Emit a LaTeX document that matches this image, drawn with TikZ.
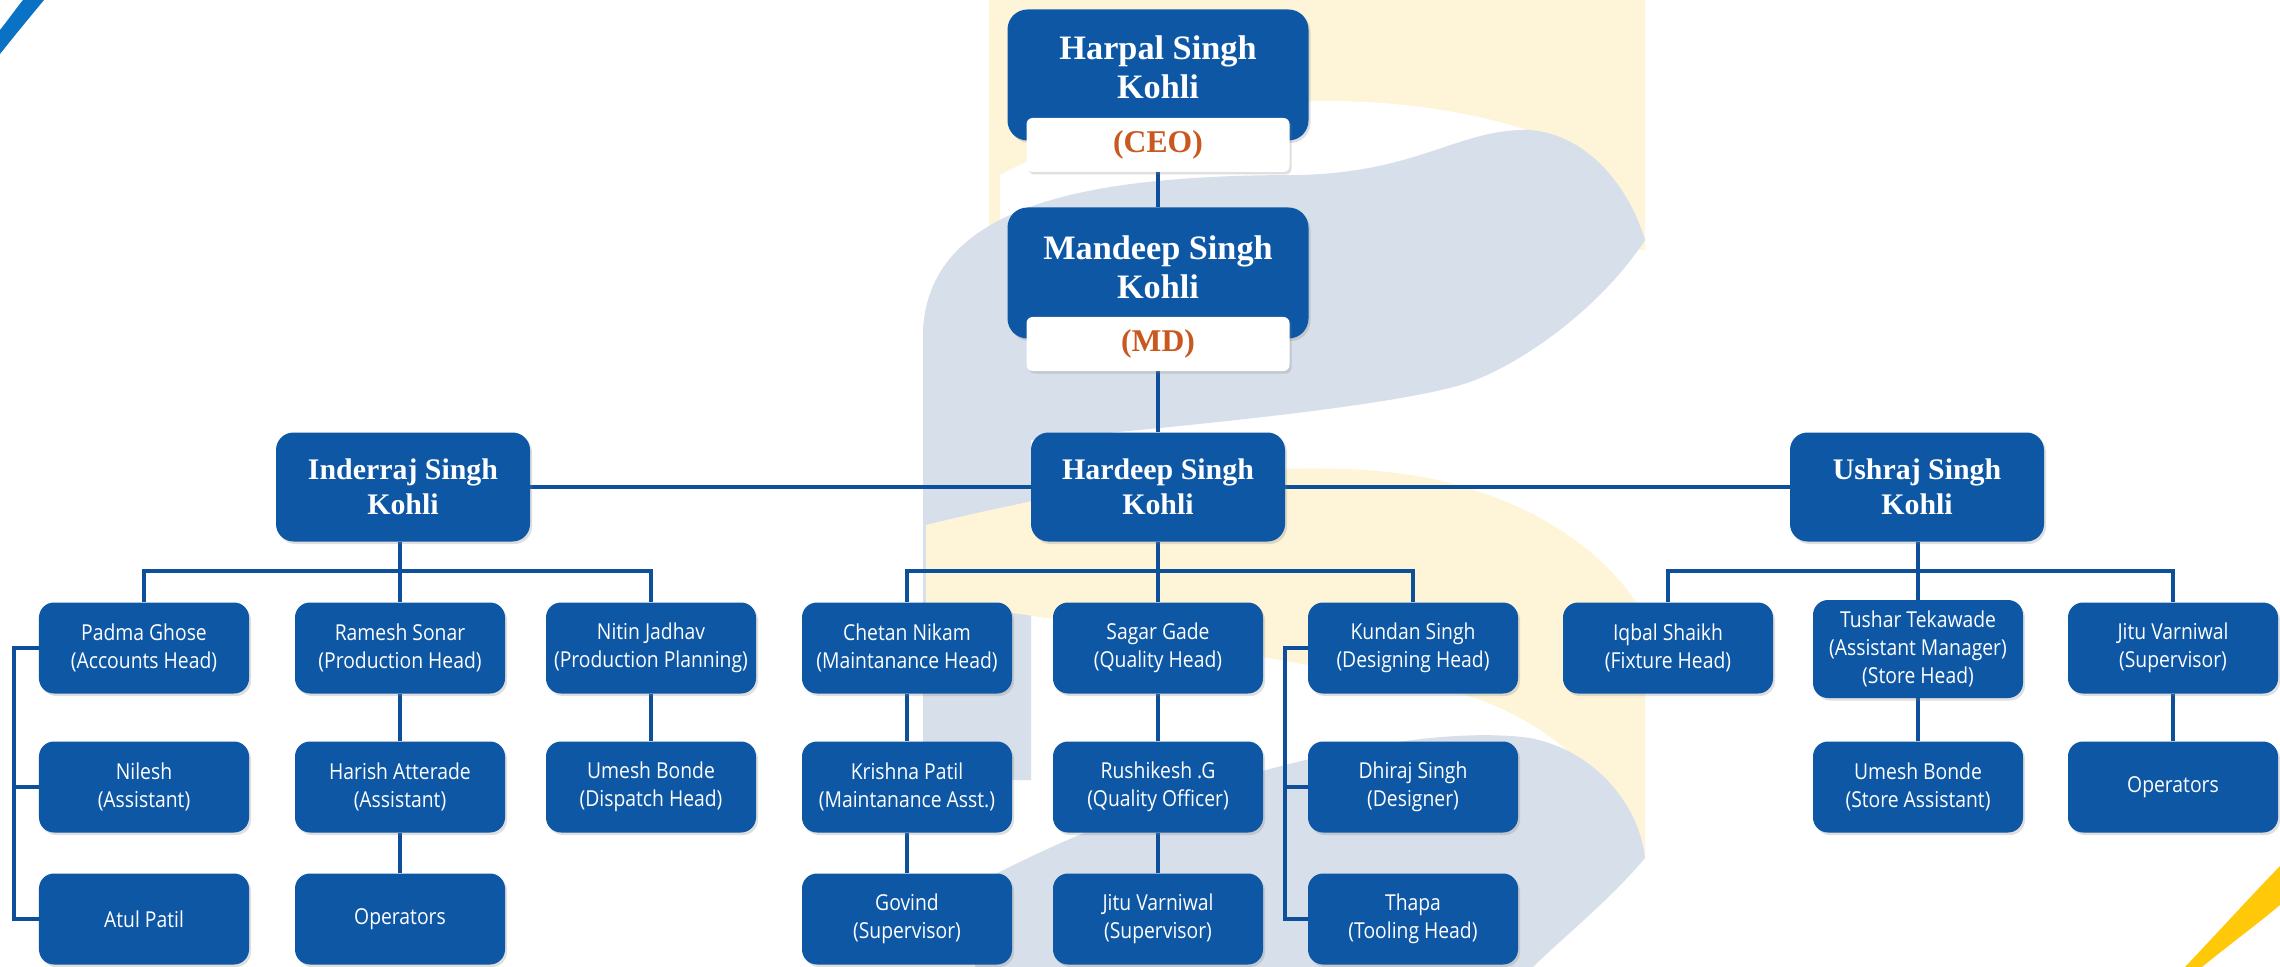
\documentclass[tikz,border=0pt]{standalone}
\usepackage{fontspec}
\newfontfamily\boxfont[FakeStretch=0.88]{Open Sans}
\newfontfamily\headfont{Liberation Serif}
\usetikzlibrary{shadows,calc}
\definecolor{boxblue}{HTML}{0D57A5}
\definecolor{lineblue}{HTML}{0E4F9C}
\definecolor{tagorange}{HTML}{C9581F}
\definecolor{wmyellow}{HTML}{FEF5D8}
\definecolor{wmgrey}{HTML}{D6DFEA}
\definecolor{swblue}{HTML}{0A72C4}
\definecolor{swyellow}{HTML}{FFC90A}
\pgfdeclarelayer{bg}
\pgfdeclarelayer{lines}
\pgfsetlayers{bg,lines,main}
\tikzset{
  conn/.style={draw=lineblue, line width=0.8mm},
  shad/.style={drop shadow={shadow xshift=0.4mm, shadow yshift=-0.5mm, opacity=0.25}},
  bigbox/.style={fill=boxblue, rounded corners=4mm, minimum width=60.2mm, minimum height=26.2mm, inner sep=0pt, shad},
  bigtext/.style={text=white, align=center, inner sep=0pt, font=\headfont\bfseries\fontsize{19.5}{22}\selectfont},
  tagbox/.style={fill=white, rounded corners=1.2mm, minimum width=52.6mm, minimum height=10.8mm, inner sep=0pt, text=tagorange, font=\headfont\bfseries\fontsize{18}{20}\selectfont, shad},
  midbox/.style={fill=boxblue, rounded corners=3.5mm, minimum width=50.8mm, minimum height=21.8mm, inner sep=0pt, text=white, align=center, font=\headfont\bfseries\fontsize{17}{20}\selectfont, shad},
  sbox/.style={fill=boxblue, rounded corners=3mm, minimum width=42mm, minimum height=18.2mm, inner sep=0pt, text=white, align=center, font=\boxfont\fontsize{12.5}{15.9}\selectfont, shad},
}
\begin{document}
\begin{tikzpicture}[x=0.2mm,y=-0.2mm]
\useasboundingbox (0,0) rectangle (2280,967);

% ---------- watermark ----------
\begin{pgfonlayer}{bg}
\fill[white] (0,0) rectangle (2280,967);
% top yellow
\fill[wmyellow] (989,0) -- (1645,0) -- (1645,250) -- (1300,230) -- (989,230) -- cycle;
% white band above the grey arc
\fill[white] (1000,175) .. controls (1150,95) and (1400,70) .. (1580,150) -- (1580,220) -- (1000,260) -- cycle;
% grey upper arc and stem
\fill[wmgrey] (923,330) .. controls (930,200) and (1100,175) .. (1300,175)
  .. controls (1420,172) and (1460,128) .. (1530,130) .. controls (1590,135) and (1630,190) .. (1645,240)
  .. controls (1600,309) and (1520,365) .. (1467,383) .. controls (1400,405) and (1200,425) .. (1031,440)
  -- (1031,780) -- (923,780) -- cycle;
% lower yellow band
\fill[wmyellow] (926,525) .. controls (1150,470) and (1350,450) .. (1467,488)
  .. controls (1560,515) and (1620,570) .. (1645,617) -- (1645,860)
  .. controls (1600,760) and (1530,700) .. (1400,680) .. controls (1200,650) and (1050,610) .. (926,605) -- cycle;
% grey lower dome
\fill[wmgrey] (975,967) -- (975,885) .. controls (1150,790) and (1400,720) .. (1530,738)
  .. controls (1600,752) and (1640,810) .. (1645,858) .. controls (1610,900) and (1560,940) .. (1533,967) -- cycle;
% corner swooshes
\fill[swblue] (0,30) .. controls (8,20) and (15,10) .. (23,0) -- (44,0) .. controls (30,17) and (15,35) .. (0,54) -- cycle;
\fill[swyellow] (2185,967) .. controls (2220,930) and (2250,897) .. (2280,866) -- (2280,905) .. controls (2255,926) and (2225,948) .. (2202,967) -- cycle;
\end{pgfonlayer}

% ---------- top ----------
\node[bigbox] (ceo) at (1158,75) {};
\node[bigtext] (ceot) at (1158,67) {Harpal Singh\\Kohli};
\node[tagbox] (ceol) at (1158,145) {(CEO)};

\node[bigbox] (md) at (1158,273) {};
\node[bigtext] (mdt) at (1158,267) {Mandeep Singh\\Kohli};
\node[tagbox] (mdl) at (1158,344) {(MD)};

\node[midbox] (hard) at (1158,487) {Hardeep Singh\\Kohli};
\node[midbox] (ind) at (403,487) {Inderraj Singh\\Kohli};
\node[midbox] (ush) at (1917,487) {Ushraj Singh\\Kohli};

% ---------- Inderraj group ----------
\node[sbox] (pad) at (144,648) {Padma Ghose\\(Accounts Head)};
\node[sbox] (ram) at (400,648) {Ramesh Sonar\\(Production Head)};
\node[sbox] (nit) at (651,648) {Nitin Jadhav\\(Production Planning)};
\node[sbox] (nil) at (144,787) {Nilesh\\(Assistant)};
\node[sbox] (har) at (400,787) {Harish Atterade\\(Assistant)};
\node[sbox] (um1) at (651,787) {Umesh Bonde\\(Dispatch Head)};
\node[sbox] (atu) at (144,919) {Atul Patil};
\node[sbox] (op1) at (400,919) {Operators};

% ---------- Hardeep group ----------
\node[sbox] (che) at (907,648) {Chetan Nikam\\(Maintanance Head)};
\node[sbox] (sag) at (1158,648) {Sagar Gade\\(Quality Head)};
\node[sbox] (kun) at (1413,648) {Kundan Singh\\(Designing Head)};
\node[sbox] (kri) at (907,787) {Krishna Patil\\(Maintanance Asst.)};
\node[sbox] (rus) at (1158,787) {Rushikesh .G\\(Quality Officer)};
\node[sbox] (dhi) at (1413,787) {Dhiraj Singh\\(Designer)};
\node[sbox] (gov) at (907,919) {Govind\\(Supervisor)};
\node[sbox] (jv1) at (1158,919) {Jitu Varniwal\\(Supervisor)};
\node[sbox] (tha) at (1413,919) {Thapa\\(Tooling Head)};

% ---------- Ushraj group ----------
\node[sbox] (iqb) at (1668,648) {Iqbal Shaikh\\(Fixture Head)};
\node[sbox, minimum height=19.6mm] (tus) at (1918,649) {Tushar Tekawade\\(Assistant Manager)\\(Store Head)};
\node[sbox] (jv2) at (2173,648) {Jitu Varniwal\\(Supervisor)};
\node[sbox] (um2) at (1918,787) {Umesh Bonde\\(Store Assistant)};
\node[sbox] (op2) at (2173,787) {Operators};

% ---------- connectors ----------
\coordinate (ib) at (400,571);
\coordinate (hb) at (1158,571);
\coordinate (ub) at (1918,571);
\coordinate (pbx) at (14,650);
\coordinate (kbx) at (1285,650);
\begin{pgfonlayer}{lines}
\draw[conn] (ceol.south) -- (md.north);
\draw[conn] (mdl.south) -- (hard.north);
\draw[conn] (ind.east) -- (ush.west);
% Inderraj
\draw[conn] (pad.north) |- (ib) -| (nit.north);
\draw[conn] (ind.south -| ram.north) -- (ram.north);
\draw[conn] (ram.south) -- (har.north);
\draw[conn] (har.south) -- (op1.north);
\draw[conn] (nit.south) -- (um1.north);
\draw[conn] (pad.west) -- (pad.west -| pbx) -- (atu.west -| pbx) -- (atu.west);
\draw[conn] (nil.west) -- (nil.west -| pbx);
% Hardeep
\draw[conn] (che.north) |- (hb) -| (kun.north);
\draw[conn] (hard.south) -- (sag.north);
\draw[conn] (che.south) -- (kri.north);
\draw[conn] (kri.south) -- (gov.north);
\draw[conn] (sag.south) -- (rus.north);
\draw[conn] (rus.south) -- (jv1.north);
\draw[conn] (kun.west) -- (kun.west -| kbx) -- (tha.west -| kbx) -- (tha.west);
\draw[conn] (dhi.west) -- (dhi.west -| kbx);
% Ushraj
\draw[conn] (iqb.north) |- (ub) -| (jv2.north);
\draw[conn] (ush.south -| tus.north) -- (tus.north);
\draw[conn] (tus.south) -- (um2.north);
\draw[conn] (jv2.south) -- (op2.north);
\end{pgfonlayer}
\end{tikzpicture}
\end{document}
